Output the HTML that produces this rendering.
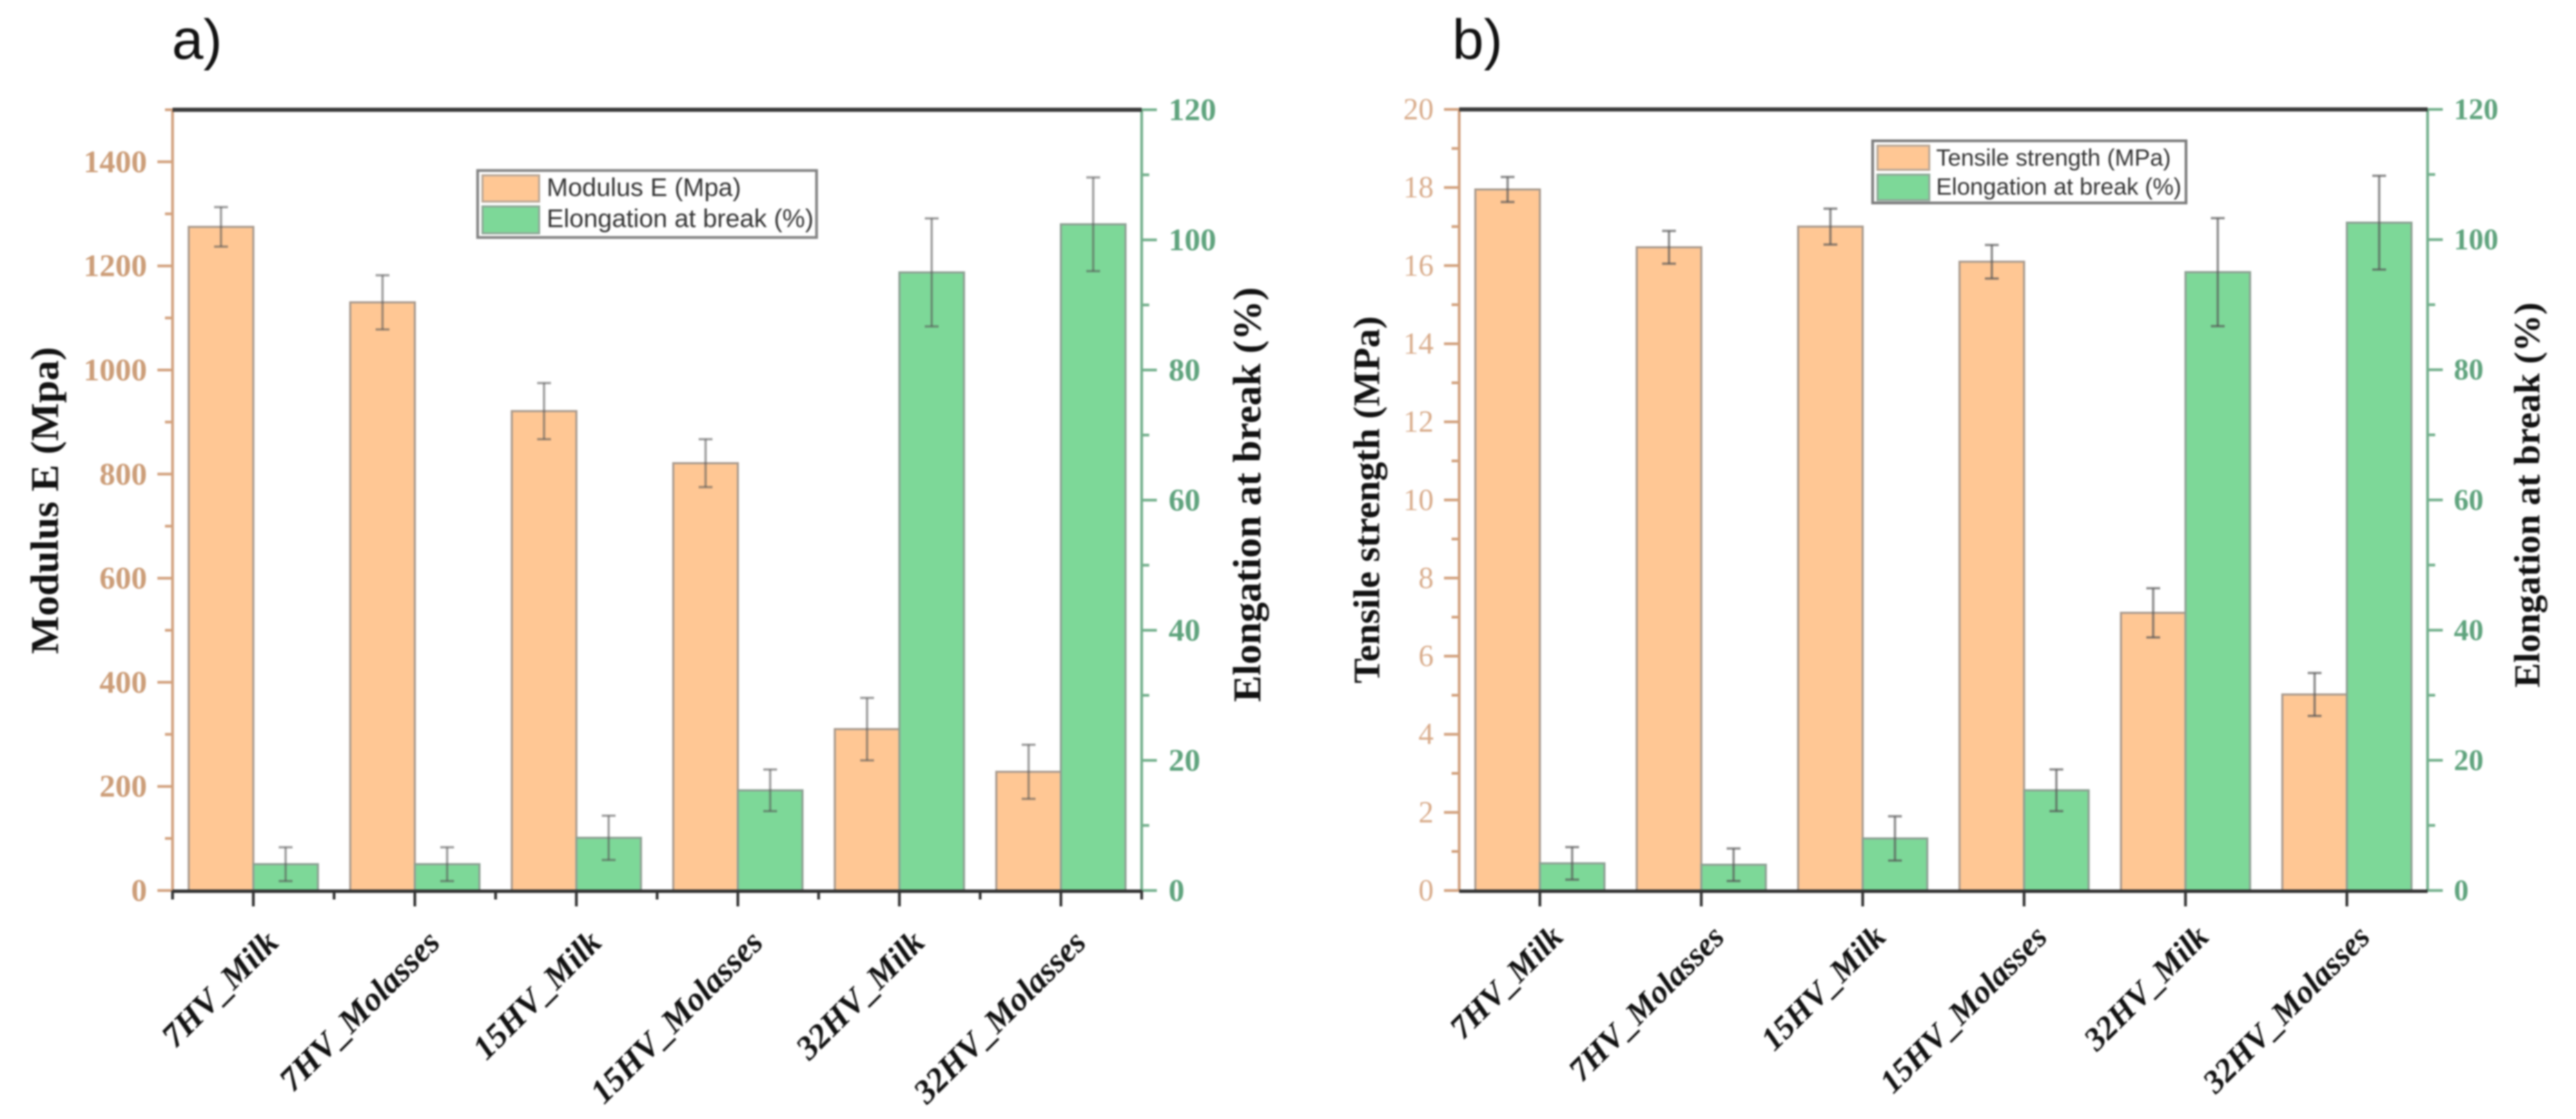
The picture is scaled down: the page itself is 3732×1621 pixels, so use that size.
<!DOCTYPE html>
<html lang="en">
<head>
<meta charset="utf-8">
<title>Mechanical properties bar charts</title>
<style>
html,body{margin:0;padding:0;background:#fff;width:3732px;height:1621px;overflow:hidden}
svg{display:block;filter:blur(1.4px)}
.serif{font-family:"Liberation Serif",serif}
.sans{font-family:"Liberation Sans",sans-serif}
</style>
</head>
<body>
<svg id="figure" xmlns="http://www.w3.org/2000/svg" width="3732" height="1621" viewBox="0 0 3732 1621">
  <rect x="0" y="0" width="3732" height="1621" fill="#fff"/>
  <text class="sans" x="249" y="85" font-size="82" fill="#111">a)</text>
  <text class="sans" x="2104" y="85" font-size="82" fill="#111">b)</text>

  <g id="chart-a"></g>
  <g id="chart-b"></g>

  <text class="serif" font-weight="bold" font-size="57" fill="#111" text-anchor="middle" textLength="445" lengthAdjust="spacingAndGlyphs" transform="translate(84 725) rotate(-90)">Modulus E (Mpa)</text>
  <text class="serif" font-weight="bold" font-size="57" fill="#111" text-anchor="middle" textLength="601" lengthAdjust="spacingAndGlyphs" transform="translate(1826 716.5) rotate(-90)">Elongation at break (%)</text>
  <text class="serif" font-weight="bold" font-size="54" fill="#111" text-anchor="middle" textLength="532" lengthAdjust="spacingAndGlyphs" transform="translate(1998 724) rotate(-90)">Tensile strength (MPa)</text>
  <text class="serif" font-weight="bold" font-size="53" fill="#111" text-anchor="middle" textLength="558" lengthAdjust="spacingAndGlyphs" transform="translate(3679 717) rotate(-90)">Elongation at break (%)</text>

  <g>
    <rect x="692" y="247" width="491" height="97" fill="#fff" stroke="#858585" stroke-width="4"/>
    <rect x="699" y="254" width="82" height="38" fill="#FFC794" stroke="#b9a796" stroke-width="3"/>
    <rect x="699" y="299" width="82" height="39" fill="#7DD898" stroke="#8fa898" stroke-width="3"/>
    <text class="sans" x="792" y="284" font-size="37" fill="#333">Modulus E (Mpa)</text>
    <text class="sans" x="792" y="329" font-size="37" fill="#333">Elongation at break (%)</text>
  </g>
  <g>
    <rect x="2713" y="204" width="454" height="90" fill="#fff" stroke="#7d7d7d" stroke-width="4"/>
    <rect x="2720" y="211" width="75" height="35" fill="#FFC794" stroke="#b9a796" stroke-width="3"/>
    <rect x="2720" y="253" width="75" height="37" fill="#7DD898" stroke="#8fa898" stroke-width="3"/>
    <text class="sans" x="2805" y="240" font-size="34" fill="#333">Tensile strength (MPa)</text>
    <text class="sans" x="2805" y="282" font-size="34" fill="#333">Elongation at break (%)</text>
  </g>
</svg>

<script>
const categories = ['7HV_Milk', '7HV_Molasses', '15HV_Milk', '15HV_Molasses', '32HV_Milk', '32HV_Molasses'];

const modulusValues = [1275, 1130, 921, 821, 310, 228];
const modulusErrors = [38, 52, 54, 46, 60, 52];
const elongationValuesA = [4.05, 4.05, 8.1, 15.4, 95, 102.4];
const elongationErrorsA = [2.6, 2.6, 3.4, 3.2, 8.3, 7.2];

const tensileValues = [17.95, 16.47, 17.0, 16.1, 7.11, 5.02];
const tensileErrors = [0.32, 0.42, 0.46, 0.43, 0.63, 0.55];
const elongationValuesB = [4.17, 3.96, 8.0, 15.4, 95, 102.6];
const elongationErrorsB = [2.5, 2.5, 3.4, 3.2, 8.3, 7.2];

const modulusMajorTicks = [0, 200, 400, 600, 800, 1000, 1200, 1400];
const modulusMinorTicks = [100, 300, 500, 700, 900, 1100, 1300, 1500];
const tensileMajorTicks = [0, 2, 4, 6, 8, 10, 12, 14, 16, 18, 20];
const tensileMinorTicks = [1, 3, 5, 7, 9, 11, 13, 15, 17, 19];
const elongationMajorTicks = [0, 20, 40, 60, 80, 100, 120];
const elongationMinorTicks = [10, 30, 50, 70, 90, 110];

const NS = 'http://www.w3.org/2000/svg';
function make(parent, tag, attrs, text) {
  const node = document.createElementNS(NS, tag);
  for (const key in attrs) node.setAttribute(key, attrs[key]);
  if (text !== undefined) node.textContent = text;
  parent.appendChild(node);
  return node;
}

function drawChart(root, cfg) {
  const xOfSlot = i => cfg.left + (cfg.right - cfg.left) * (i + 0.5) / categories.length;
  const slot = (cfg.right - cfg.left) / categories.length;
  const barWidth = slot * 0.4;
  const yLeft = v => cfg.bottom - (cfg.bottom - cfg.top) * v / cfg.leftMax;
  const yRight = v => cfg.bottom - (cfg.bottom - cfg.top) * v / cfg.rightMax;

  function drawErrorBar(cx, yHigh, yLow) {
    const errorGroup = make(root, 'g', {stroke: '#555', 'stroke-width': 3.5, 'stroke-opacity': cfg.errorOpacity, fill: 'none'});
    
    
    make(errorGroup, 'line', {x1: cx, x2: cx, y1: yHigh, y2: yLow});
    make(errorGroup, 'line', {x1: cx - 10, x2: cx + 10, y1: yHigh, y2: yHigh});
    make(errorGroup, 'line', {x1: cx - 10, x2: cx + 10, y1: yLow, y2: yLow});
  }

  categories.forEach((name, i) => {
    const cx = xOfSlot(i);
    const orangeBar = make(root, 'rect', {x: cx - barWidth, y: yLeft(cfg.leftValues[i]), width: barWidth, height: cfg.bottom - yLeft(cfg.leftValues[i]), fill: '#FFC794', stroke: '#a89a8e', 'stroke-width': 3});
    
    
    const greenBar = make(root, 'rect', {x: cx, y: yRight(cfg.rightValues[i]), width: barWidth, height: cfg.bottom - yRight(cfg.rightValues[i]), fill: '#7DD898', stroke: '#8d9f93', 'stroke-width': 3});
    
    
  });
  categories.forEach((name, i) => {
    const cx = xOfSlot(i);
    drawErrorBar(cx - barWidth / 2, yLeft(cfg.leftValues[i] + cfg.leftErrors[i]), yLeft(cfg.leftValues[i] - cfg.leftErrors[i]));
    drawErrorBar(cx + barWidth / 2, yRight(cfg.rightValues[i] + cfg.rightErrors[i]), yRight(cfg.rightValues[i] - cfg.rightErrors[i]));
  });

  const leftAxis = make(root, 'line', {x1: cfg.left, x2: cfg.left, y1: cfg.top, y2: cfg.bottom, stroke: '#d2a27f', 'stroke-width': 4});
  
  
  const rightAxis = make(root, 'line', {x1: cfg.right, x2: cfg.right, y1: cfg.top, y2: cfg.bottom, stroke: '#74b08d', 'stroke-width': 4});
  
  

  cfg.leftMajor.forEach(v => {
    const tick = make(root, 'line', {x1: cfg.left - 22, x2: cfg.left, y1: yLeft(v), y2: yLeft(v), stroke: '#d2a27f', 'stroke-width': 4});
    
    
    const label = make(root, 'text', {x: cfg.left - cfg.leftLabelGap, y: yLeft(v) + cfg.labelShift, 'text-anchor': 'end', 'font-family': '"Liberation Serif", serif', 'font-size': cfg.leftFont, 'font-weight': cfg.leftWeight, fill: cfg.leftColor}, String(v));
    
    
  });
  cfg.leftMinor.forEach(v => {
    const tick = make(root, 'line', {x1: cfg.left - 11, x2: cfg.left, y1: yLeft(v), y2: yLeft(v), stroke: '#d2a27f', 'stroke-width': 4});
    
    
  });
  elongationMajorTicks.forEach(v => {
    const tick = make(root, 'line', {x1: cfg.right, x2: cfg.right + 22, y1: yRight(v), y2: yRight(v), stroke: '#74b08d', 'stroke-width': 4});
    
    
    const label = make(root, 'text', {x: cfg.right + cfg.rightLabelGap, y: yRight(v) + cfg.labelShift, 'font-family': '"Liberation Serif", serif', 'font-size': cfg.rightFont, 'font-weight': 'bold', fill: '#5fa37d'}, String(v));
    
    
  });
  elongationMinorTicks.forEach(v => {
    const tick = make(root, 'line', {x1: cfg.right, x2: cfg.right + 11, y1: yRight(v), y2: yRight(v), stroke: '#74b08d', 'stroke-width': 4});
    
    
  });

  const topLine = make(root, 'line', {x1: cfg.left, x2: cfg.right, y1: cfg.top, y2: cfg.top, stroke: '#3a3a3a', 'stroke-width': 6});
  
  
  const bottomLine = make(root, 'line', {x1: cfg.left, x2: cfg.right, y1: cfg.bottom + 1, y2: cfg.bottom + 1, stroke: '#333', 'stroke-width': 5});
  
  

  categories.forEach((name, i) => {
    const cx = xOfSlot(i);
    const tick = make(root, 'line', {x1: cx, x2: cx, y1: cfg.bottom, y2: cfg.bottom + 23, stroke: '#333', 'stroke-width': 4});
    
    
    const lx = cx + cfg.xLabelDx;
    const label = make(root, 'text', {x: lx, y: cfg.xLabelY, 'text-anchor': 'end', transform: 'rotate(-45 ' + lx + ' ' + cfg.xLabelY + ')', 'font-family': '"Liberation Serif", serif', 'font-size': cfg.xFont, 'font-weight': 'bold', 'font-style': 'italic', fill: '#111'}, name);
    
    
  });
  if (cfg.edgeTicks) {
    for (let i = 0; i <= categories.length; i++) {
      const ex = cfg.left + slot * i;
      const tick = make(root, 'line', {x1: ex, x2: ex, y1: cfg.bottom, y2: cfg.bottom + 13, stroke: '#333', 'stroke-width': 4});
      
      
    }
  }
}

drawChart(document.getElementById('chart-a'), {
  left: 250, right: 1654, top: 159, bottom: 1290,
  leftMax: 1500, rightMax: 120,
  leftValues: modulusValues, leftErrors: modulusErrors,
  rightValues: elongationValuesA, rightErrors: elongationErrorsA,
  leftMajor: modulusMajorTicks, leftMinor: modulusMinorTicks,
  leftLabelGap: 37, rightLabelGap: 39, labelShift: 15,
  leftFont: 46, rightFont: 46, leftWeight: 'bold', leftColor: '#cc9d78',
  xLabelDx: 39, xLabelY: 1368, xFont: 49, edgeTicks: true, errorOpacity: 0.55
});
drawChart(document.getElementById('chart-b'), {
  left: 2114, right: 3517, top: 158.5, bottom: 1290,
  leftMax: 20, rightMax: 120,
  leftValues: tensileValues, leftErrors: tensileErrors,
  rightValues: elongationValuesB, rightErrors: elongationErrorsB,
  leftMajor: tensileMajorTicks, leftMinor: tensileMinorTicks,
  leftLabelGap: 37, rightLabelGap: 38, labelShift: 14,
  leftFont: 44, rightFont: 43, leftWeight: 'normal', leftColor: '#d8ab8a',
  xLabelDx: 36, xLabelY: 1360, xFont: 47.5, edgeTicks: false, errorOpacity: 0.65
});
</script>
</body>
</html>
